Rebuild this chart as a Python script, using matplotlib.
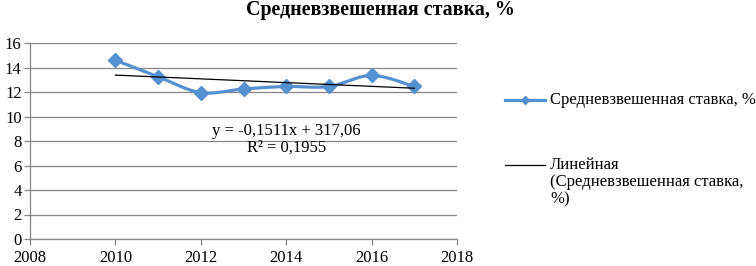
import numpy as np
import matplotlib
matplotlib.use("Agg")
import matplotlib.pyplot as plt
from matplotlib.lines import Line2D

# ---------------- DATA ----------------
years = [2010, 2011, 2012, 2013, 2014, 2015, 2016, 2017]
rate = [14.6, 13.25, 11.95, 12.25, 12.45, 12.45, 13.35, 12.45]
series_label = "Средневзвешенная ставка, %"
trend_label = "Линейная\n(Средневзвешенная ставка,\n%)"
eq_text = "y = -0,1511x + 317,06\nR² = 0,1955"
x_ticks = [2008, 2010, 2012, 2014, 2016, 2018]
y_ticks = [0, 2, 4, 6, 8, 10, 12, 14, 16]

BLUE = "#5590CF"
GRID = "#868686"
FW, FH = 756, 266


def smooth(x, y, n=30):
    # Catmull-Rom style smoothing like Excel's "smoothed line"
    x = np.asarray(x, float)
    y = np.asarray(y, float)
    px = np.concatenate([[x[0]], x, [x[-1]]])
    py = np.concatenate([[y[0]], y, [y[-1]]])
    xs, ys = [], []
    for i in range(1, len(px) - 2):
        t = np.linspace(0, 1, n)
        for p, out in ((px, xs), (py, ys)):
            p0, p1, p2, p3 = p[i - 1], p[i], p[i + 1], p[i + 2]
            c1 = p1 + (p2 - p0) / 6
            c2 = p2 - (p3 - p1) / 6
            out.extend((1 - t) ** 3 * p1 + 3 * (1 - t) ** 2 * t * c1
                       + 3 * (1 - t) * t ** 2 * c2 + t ** 3 * p2)
    return np.array(xs), np.array(ys)


def main():
    plt.rcParams["font.family"] = ["Liberation Serif", "DejaVu Serif"]
    fig = plt.figure(figsize=(FW / 100, FH / 100), dpi=100)
    ax = fig.add_axes([30 / FW, 1 - 239 / FH, 427 / FW, 196 / FH])

    # ---------------- SERIES ----------------
    sx, sy = smooth(years, rate)
    ax.plot(sx, sy, color=BLUE, lw=2.3, solid_capstyle="round", zorder=3)
    ax.plot(years, rate, ls="none", marker="D", ms=7.5, color=BLUE, zorder=4)

    # linear trend
    k, b = np.polyfit(years, rate, 1)
    tx = np.array([years[0], years[-1]])
    ax.plot(tx, k * tx + b, color="black", lw=0.9, zorder=5)

    ax.text(2014.0, 8.1, eq_text, ha="center", va="center", fontsize=12,
            linespacing=1.05)

    # ---------------- AXES ----------------
    ax.set_xlim(2008, 2018)
    ax.set_ylim(0, 16)
    ax.set_xticks(x_ticks)
    ax.set_yticks(y_ticks)
    ax.yaxis.grid(True, color=GRID, lw=0.9)
    ax.set_axisbelow(True)
    for s in ("top", "right"):
        ax.spines[s].set_visible(False)
    for s in ("left", "bottom"):
        ax.spines[s].set_color(GRID)
        ax.spines[s].set_linewidth(0.9)
    ax.tick_params(colors=GRID, length=4, width=0.9, labelsize=12,
                   labelcolor="black")
    ax.tick_params(axis="y", pad=2)
    ax.tick_params(axis="x", pad=4)

    fig.text(380 / FW, 1 - 10 / FH, series_label, ha="center", va="center",
             fontsize=14.4, fontweight="bold")

    # ---------------- LEGEND ----------------
    y1 = 1 - 100 / FH
    fig.add_artist(Line2D([505 / FW, 545 / FW], [y1, y1], color=BLUE, lw=2.3,
                          transform=fig.transFigure))
    fig.add_artist(Line2D([525 / FW], [y1], marker="D", ms=4, color=BLUE,
                          transform=fig.transFigure))
    fig.text(550 / FW, y1, series_label, va="center", fontsize=12)

    y2 = 1 - 165 / FH
    fig.add_artist(Line2D([505 / FW, 545 / FW], [y2, y2], color="black", lw=0.9,
                          transform=fig.transFigure))
    fig.text(550 / FW, 1 - 157 / FH, trend_label, va="top", fontsize=12,
             linespacing=1.1)

    fig.savefig("out.png", dpi=100)
    plt.close(fig)


if __name__ == "__main__":
    main()
